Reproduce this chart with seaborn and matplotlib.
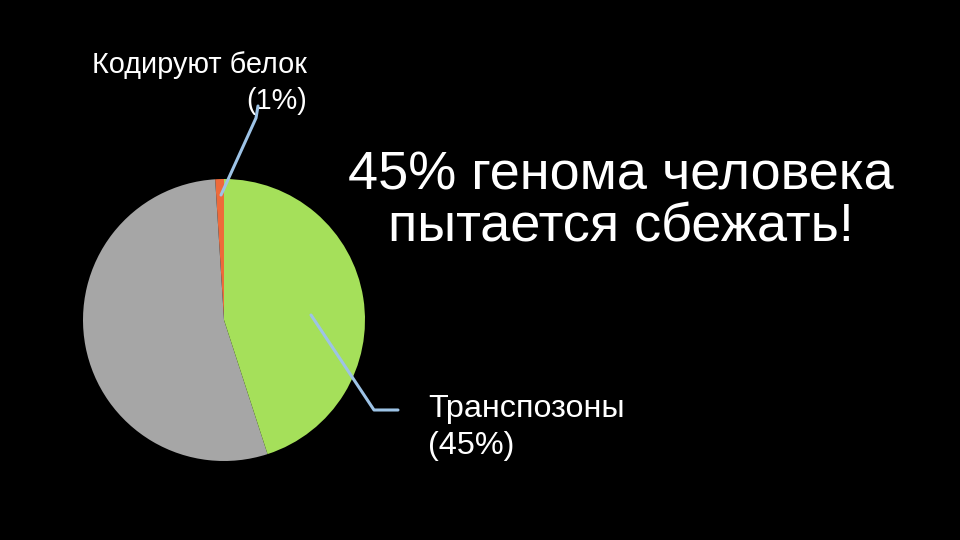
import matplotlib
matplotlib.use("Agg")
import matplotlib.pyplot as plt
import seaborn as sns

# shares of the human genome
labels = ["Кодируют белок\n(1%)", "Прочее", "Транспозоны\n(45%)"]
shares = [1, 54, 45]
colors = ["#EE6A3A", "#A6A6A6", "#A5E05A"]

title = "45% генома человека\nпытается сбежать!"

sns.set_theme(style="dark")
plt.rcParams['font.family'] = ['Liberation Sans', 'DejaVu Sans']

fig = plt.figure(figsize=(9.6, 5.4), dpi=100, facecolor="black")

# pie axes: centre (224, 320), radius 141 px
cx, cy, r = 224, 320, 141
pie_ax = fig.add_axes([(cx - r) / 960, (540 - cy - r) / 540, 2 * r / 960, 2 * r / 540])
pie_ax.pie(shares, colors=colors, startangle=90, counterclock=True,
           wedgeprops=dict(linewidth=0))
pie_ax.set_xlim(-1, 1)
pie_ax.set_ylim(-1, 1)
pie_ax.set_aspect("equal")
pie_ax.axis("off")

# overlay in pixel coords for texts and leader lines
over = fig.add_axes([0, 0, 1, 1])
over.set_xlim(0, 960)
over.set_ylim(540, 0)
over.axis("off")
over.patch.set_alpha(0)

line_col = "#9DC3E6"
over.plot([221, 256, 258], [195, 118, 106], color=line_col, lw=2.2, zorder=5)
over.plot([311, 374, 398], [315, 410, 410], color=line_col, lw=2.2, zorder=5)

over.text(307, 73, "Кодируют белок", color="white", fontsize=20.8,
          ha="right", va="baseline")
over.text(307, 109, "(1%)", color="white", fontsize=20.8,
          ha="right", va="baseline")

over.text(428, 417, "Транспозоны", color="white", fontsize=23.3,
          ha="left", va="baseline")
over.text(428, 454, "(45%)", color="white", fontsize=23.3,
          ha="left", va="baseline")

over.text(621, 190, "45% генома человека", color="white", fontsize=39,
          ha="center", va="baseline")
over.text(621, 241, "пытается сбежать!", color="white", fontsize=39,
          ha="center", va="baseline")

fig.savefig("out.png", dpi=100, facecolor="black")
